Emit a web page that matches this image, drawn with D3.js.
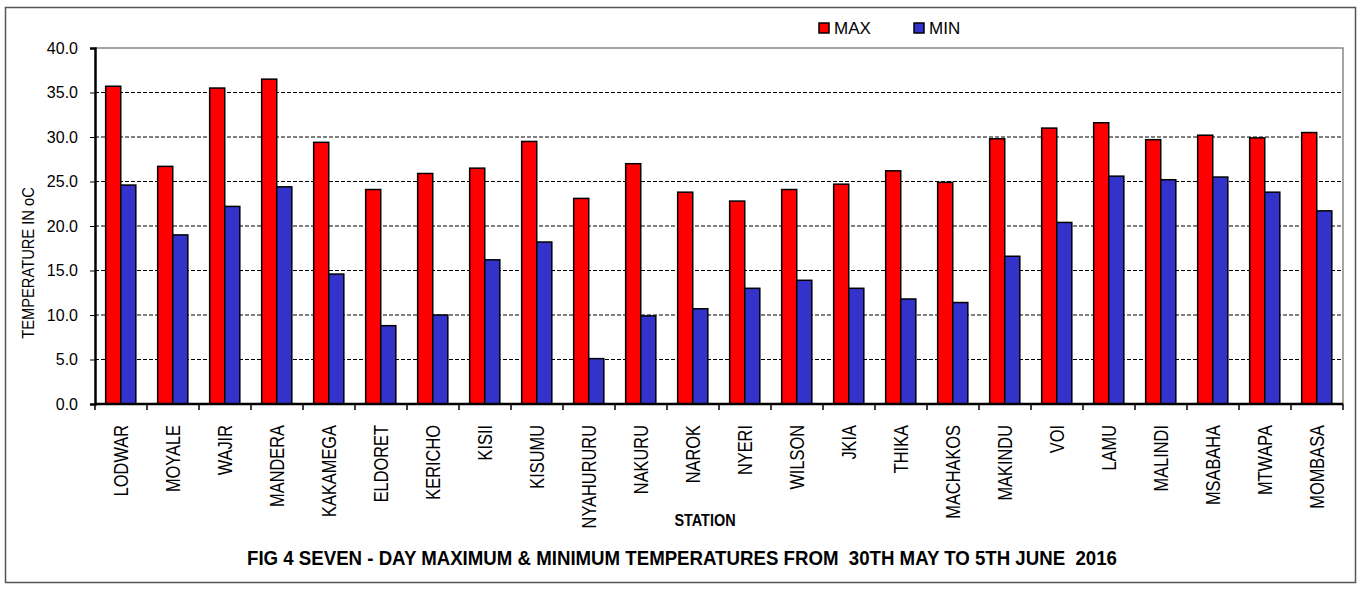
<!DOCTYPE html>
<meta charset="utf-8"/>
<style>
  body { margin: 0; background: #fff; }
  text { font-family: "Liberation Sans", Arial, sans-serif; }
  .grid line { stroke: #000; stroke-dasharray: 4,2; stroke-width: 1; }
  .xlab { font-size: 20px; }
</style>
<svg width="1362" height="591"></svg>
<script src="https://d3js.org/d3.v7.min.js"></script>
<script>

var stations = ["LODWAR", "MOYALE", "WAJIR", "MANDERA", "KAKAMEGA", "ELDORET", "KERICHO", "KISII",
  "KISUMU", "NYAHURURU", "NAKURU", "NAROK", "NYERI", "WILSON", "JKIA", "THIKA", "MACHAKOS",
  "MAKINDU", "VOI", "LAMU", "MALINDI", "MSABAHA", "MTWAPA", "MOMBASA"];
var maxTemp = [35.7, 26.7, 35.5, 36.5, 29.4, 24.1, 25.9, 26.5, 29.5, 23.1, 27.0, 23.8,
  22.8, 24.1, 24.7, 26.2, 24.9, 29.8, 31.0, 31.6, 29.7, 30.2, 29.9, 30.5];
var minTemp = [24.6, 19.0, 22.2, 24.4, 14.6, 8.8, 10.0, 16.2, 18.2, 5.1, 9.9, 10.7,
  13.0, 13.9, 13.0, 11.8, 11.4, 16.6, 20.4, 25.6, 25.2, 25.5, 23.8, 21.7];
var yTicks = [0, 5, 10, 15, 20, 25, 30, 35, 40];
var seriesNames = ["MAX", "MIN"];
var seriesColors = ["#ff0000", "#3333cc"];

var svg = d3.select("svg");

// outer frame
svg.append("rect")
  .attr("x", 5.5).attr("y", 7.5)
  .attr("width", 1350).attr("height", 575)
  .attr("fill", "none").attr("stroke", "#555").attr("stroke-width", 1.5);

var pLeft = 95, pRight = 1343, pTop = 48, pBottom = 404;

var x = d3.scaleBand().domain(stations).range([pLeft, pRight]);
var y = d3.scaleLinear().domain([0, 40]).range([pBottom, pTop]);

// plot border (top and right)
svg.append("path")
  .attr("d", "M" + pLeft + "," + pTop + "H" + pRight + "V" + pBottom)
  .attr("fill", "none").attr("stroke", "#888").attr("stroke-width", 1.5);

// gridlines
svg.append("g").attr("class", "grid")
  .selectAll("line")
  .data(yTicks.filter(function (d) { return d > 0 && d < 40; }))
  .enter().append("line")
  .attr("x1", pLeft).attr("x2", pRight)
  .attr("y1", function (d) { return y(d); })
  .attr("y2", function (d) { return y(d); });

// bars
var bw = x.bandwidth();
var barW = bw * 0.29, off = bw * 0.205;
var sets = [maxTemp, minTemp];
sets.forEach(function (vals, i) {
  svg.append("g")
    .selectAll("rect")
    .data(stations)
    .enter().append("rect")
    .attr("x", function (d) { return x(d) + off + i * barW; })
    .attr("y", function (d, j) { return y(vals[j]); })
    .attr("width", barW)
    .attr("height", function (d, j) { return pBottom - y(vals[j]); })
    .attr("fill", seriesColors[i])
    .attr("stroke", "#000")
    .attr("stroke-width", 1.5);
});

// y axis
var yAxis = svg.append("g")
  .attr("transform", "translate(" + pLeft + ",0)")
  .call(d3.axisLeft(y).tickValues(yTicks).tickFormat(d3.format(".1f")).tickSize(5).tickPadding(12));
yAxis.select(".domain").attr("stroke-width", 2.5);
yAxis.selectAll("text").attr("font-size", 16).attr("fill", "#000")
  .attr("font-family", "'Liberation Sans', Arial, sans-serif");

// x axis: ticks at band boundaries
var xAxis = svg.append("g");
xAxis.append("line")
  .attr("x1", pLeft).attr("x2", pRight)
  .attr("y1", pBottom).attr("y2", pBottom)
  .attr("stroke", "#000").attr("stroke-width", 2.5);
xAxis.selectAll(".tk")
  .data(stations.concat(["end"]))
  .enter().append("line")
  .attr("x1", function (d, i) { return pLeft + i * bw; })
  .attr("x2", function (d, i) { return pLeft + i * bw; })
  .attr("y1", pBottom).attr("y2", pBottom + 6)
  .attr("stroke", "#000").attr("stroke-width", 1.5);

// station names, squeezed to look like a narrow face
svg.append("g").selectAll("text")
  .data(stations)
  .enter().append("text")
  .attr("class", "xlab")
  .attr("transform", function (d) { return "translate(" + (x(d) + bw / 2) + ",425) rotate(-90) scale(0.82,1)"; })
  .attr("text-anchor", "end")
  .attr("dy", "0.36em")
  .text(function (d) { return d; });

// axis titles
svg.append("text")
  .attr("transform", "translate(28,263) rotate(-90) scale(0.92,1)")
  .attr("text-anchor", "middle")
  .attr("dy", "0.35em")
  .attr("font-size", 16)
  .text("TEMPERATURE IN oC");

svg.append("text")
  .attr("transform", "translate(705,526) scale(0.85,1)")
  .attr("text-anchor", "middle")
  .attr("font-weight", "bold")
  .attr("font-size", 17)
  .text("STATION");

svg.append("text")
  .attr("x", 247).attr("y", 565)
  .attr("font-weight", "bold")
  .attr("font-size", 20)
  .attr("textLength", 870)
  .attr("lengthAdjust", "spacingAndGlyphs")
  .style("white-space", "pre")
  .text("FIG 4 SEVEN - DAY MAXIMUM & MINIMUM TEMPERATURES FROM  30TH MAY TO 5TH JUNE  2016");

// legend
var leg = svg.append("g").selectAll("g")
  .data(seriesNames)
  .enter().append("g")
  .attr("transform", function (d, i) { return "translate(" + (819 + i * 95) + ",23)"; });
leg.append("rect")
  .attr("width", 10).attr("height", 10)
  .attr("fill", function (d, i) { return seriesColors[i]; })
  .attr("stroke", "#000").attr("stroke-width", 1.5);
leg.append("text")
  .attr("x", 15).attr("y", 11)
  .attr("font-size", 17)
  .text(function (d) { return d; });

</script>
